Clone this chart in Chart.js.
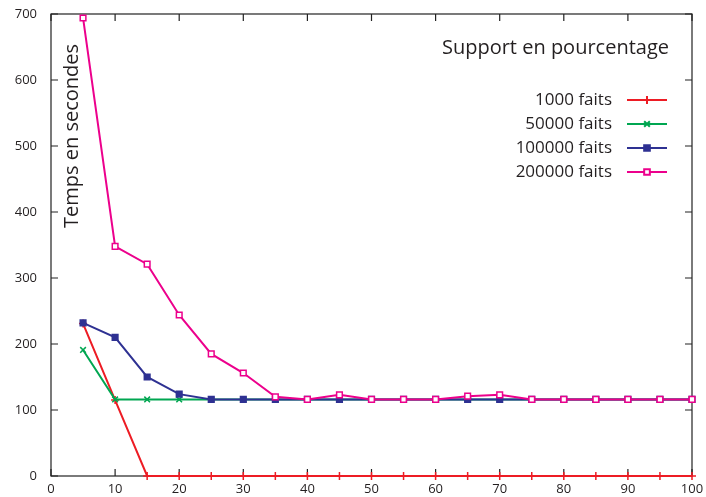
<!DOCTYPE html>
<html>
<head>
<meta charset="utf-8">
<script src="https://cdn.jsdelivr.net/npm/chart.js@4/dist/chart.umd.min.js"></script>
<style>
  html, body { margin: 0; padding: 0; background: #fff; }
  #wrap { width: 706px; height: 497px; }
</style>
</head>
<body>
<div id="wrap"><canvas id="chart" width="706" height="497"></canvas></div>
<script>
// support (%) on x, time in seconds on y
var supports = [5, 10, 15, 20, 25, 30, 35, 40, 45, 50, 55, 60, 65, 70, 75, 80, 85, 90, 95, 100];
var t1000   = [231, 115, 0, 0, 0, 0, 0, 0, 0, 0, 0, 0, 0, 0, 0, 0, 0, 0, 0, 0];
var t50000  = [191, 116, 116, 116, 116, 116, 116, 116, 116, 116, 116, 116, 116, 116, 116, 116, 116, 116, 116, 116];
var t100000 = [232, 210, 150, 124, 116, 116, 116, 116, 116, 116, 116, 116, 116, 116, 116, 116, 116, 116, 116, 116];
var t200000 = [694, 348, 321, 244, 185, 156, 120, 116, 123, 116, 116, 116, 121, 123, 116, 116, 116, 116, 116, 116];
var seriesNames = ['1000 faits', '50000 faits', '100000 faits', '200000 faits'];
var xTicks = [0, 10, 20, 30, 40, 50, 60, 70, 80, 90, 100];
var yTicks = [0, 100, 200, 300, 400, 500, 600, 700];

var FONT = '"Open Sans", "Noto Sans", sans-serif';

function toPoints(values) {
    return supports.map((s, i) => ({ x: s, y: values[i] }));
}

// gnuplot-like frame with inward ticks on all four sides, plus tick labels
const framePlugin = {
    id: 'frame',
    beforeDatasetsDraw(chart) {
        const ctx = chart.ctx;
        const a = chart.chartArea;
        const xs = chart.scales.x, ys = chart.scales.y;
        ctx.save();
        ctx.strokeStyle = '#222';
        ctx.lineWidth = 1.2;
        ctx.strokeRect(a.left, a.top, a.right - a.left, a.bottom - a.top);
        ctx.beginPath();
        xTicks.forEach(v => {
            const px = xs.getPixelForValue(v);
            ctx.moveTo(px, a.bottom); ctx.lineTo(px, a.bottom - 7);
            ctx.moveTo(px, a.top); ctx.lineTo(px, a.top + 7);
        });
        yTicks.forEach(v => {
            const py = ys.getPixelForValue(v);
            ctx.moveTo(a.left, py); ctx.lineTo(a.left + 7, py);
            ctx.moveTo(a.right, py); ctx.lineTo(a.right - 7, py);
        });
        ctx.stroke();

        ctx.fillStyle = '#231f20';
        ctx.font = '13px ' + FONT;
        ctx.textAlign = 'right';
        ctx.textBaseline = 'middle';
        yTicks.forEach(v => {
            ctx.fillText(String(v), a.left - 14, ys.getPixelForValue(v));
        });
        ctx.textAlign = 'center';
        xTicks.forEach(v => {
            ctx.fillText(String(v), xs.getPixelForValue(v), a.bottom + 13);
        });
        ctx.restore();
    }
};

// key and axis label drawn inside the plot, like gnuplot
const keyPlugin = {
    id: 'key',
    afterDatasetsDraw(chart) {
        const ctx = chart.ctx;
        ctx.save();
        ctx.fillStyle = '#231f20';

        ctx.font = '20px ' + FONT;
        ctx.textAlign = 'right';
        ctx.textBaseline = 'middle';
        ctx.fillText('Support en pourcentage', 669, 48);

        ctx.font = '17px ' + FONT;
        chart.data.datasets.forEach((ds, i) => {
            const y = 100 + i * 24;
            ctx.fillStyle = '#231f20';
            ctx.fillText(ds.label, 612, y);
            ctx.strokeStyle = ds.borderColor;
            ctx.lineWidth = 2;
            ctx.beginPath();
            ctx.moveTo(627, y); ctx.lineTo(667, y);
            ctx.stroke();
            ctx.fillStyle = ds.pointBackgroundColor;
            Chart.helpers.drawPoint(ctx, {
                pointStyle: ds.pointStyle, radius: ds.pointRadius, rotation: 0,
                borderWidth: ds.pointBorderWidth
            }, 647, y);
        });

        ctx.translate(72, 136);
        ctx.rotate(-Math.PI / 2);
        ctx.fillStyle = '#231f20';
        ctx.font = '20px ' + FONT;
        ctx.textAlign = 'center';
        ctx.fillText('Temps en secondes', 0, 0);
        ctx.restore();
    }
};

const colors = ['#ed1c24', '#00a651', '#2e3192', '#ec008c'];
const styles = ['cross', 'crossRot', 'rect', 'rect'];
const fills = ['#ed1c24', '#00a651', '#2e3192', '#ffffff'];
const allValues = [t1000, t50000, t100000, t200000];

// later series drawn on top, as gnuplot does
const datasets = allValues.map((vals, i) => ({
    label: seriesNames[i],
    data: toPoints(vals),
    order: allValues.length - i,
    borderColor: colors[i],
    backgroundColor: colors[i],
    pointBackgroundColor: fills[i],
    pointBorderColor: colors[i],
    pointStyle: styles[i],
    pointRadius: 4,
    pointBorderWidth: 1.5,
    borderWidth: 2,
    tension: 0,
    fill: false,
    clip: false
}));

new Chart(document.getElementById('chart'), {
    type: 'line',
    data: { datasets: datasets },
    options: {
        responsive: false,
        animation: false,
        layout: { padding: { top: 14, right: 14, left: 0, bottom: 0 } },
        plugins: { legend: { display: false }, tooltip: { enabled: false } },
        scales: {
            x: {
                type: 'linear', min: 0, max: 100,
                afterBuildTicks: s => { s.ticks = xTicks.map(v => ({ value: v })); },
                afterFit: s => { s.height = 21; },
                grid: { display: false, drawTicks: false },
                border: { display: false },
                ticks: { display: false }
            },
            y: {
                type: 'linear', min: 0, max: 700,
                afterBuildTicks: s => { s.ticks = yTicks.map(v => ({ value: v })); },
                afterFit: s => { s.width = 51; },
                grid: { display: false, drawTicks: false },
                border: { display: false },
                ticks: { display: false }
            }
        }
    },
    plugins: [framePlugin, keyPlugin]
});
</script>
</body>
</html>
